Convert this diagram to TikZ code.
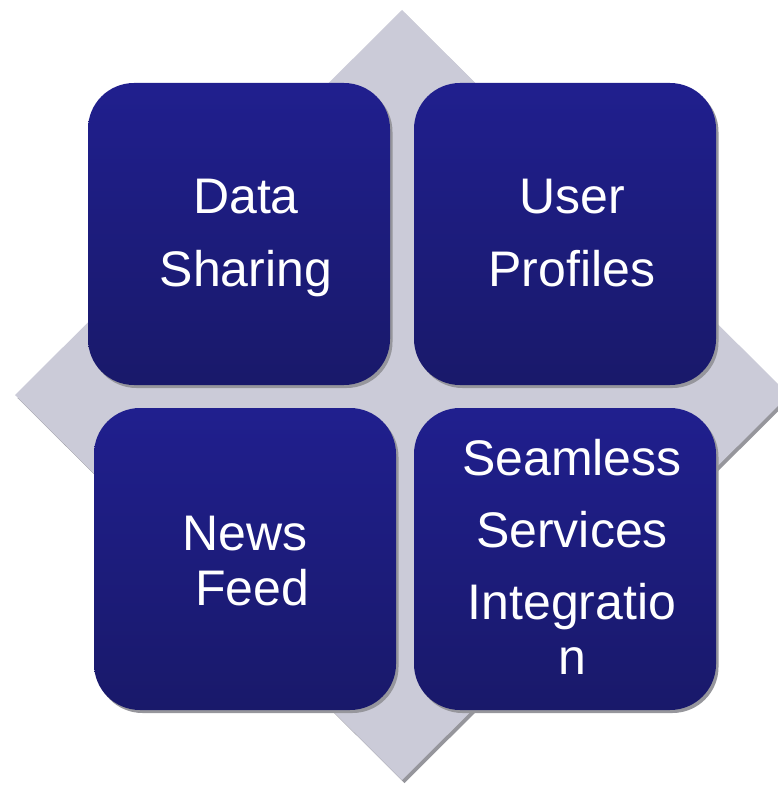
\documentclass[tikz,border=0pt]{standalone}
\usepackage{fontspec}
\setmainfont{Liberation Sans}
\usepackage{tikz}
\usetikzlibrary{shadows,positioning}

\definecolor{diamondgray}{RGB}{203,203,216}
\definecolor{shadowgray}{RGB}{150,150,156}
\definecolor{tiletop}{RGB}{32,31,142}
\definecolor{tilebottom}{RGB}{25,25,106}

\tikzset{
	tile/.style={rounded corners=46pt, top color=tiletop, bottom color=tilebottom,
		minimum width=302pt, minimum height=302pt, inner sep=0pt,
		drop shadow={shadow xshift=2.5pt, shadow yshift=-3pt, fill=shadowgray, opacity=1}},
	tiletext/.style={text=white, align=center, inner sep=0pt,
		font=\fontsize{50}{#1}\selectfont}
}

\begin{document}
\begin{tikzpicture}[x=1pt,y=-1pt]
\useasboundingbox (0,0) rectangle (777,786);
% Diamond behind the tiles
\fill[diamondgray, drop shadow={shadow xshift=2.5pt, shadow yshift=-3pt, fill=shadowgray, opacity=1}]
	(402,10) -- (789,395) -- (402,780) -- (15,395) -- cycle;
% Tiles
\node[tile] (sharing) at (239,234) {};
\node[tile] (profiles) at (565,234) {};
\node[tile] (feed) at (245,559) {};
\node[tile] (services) at (565,559) {};
% Tile texts
\node[tiletext=73] (sharingtext) at ([xshift=7pt,yshift=-4pt]sharing.center) {Data\\Sharing};
\node[tiletext=73] (profilestext) at ([xshift=7pt,yshift=1pt]profiles.center) {User\\Profiles};
\node[tiletext=55] (feedtext) at ([xshift=7pt,yshift=-2pt]feed.center) {News\rule{0.278em}{0pt}\\Feed};
\node[tiletext=72] (servicestext) at ([xshift=7pt,yshift=2pt]services.center)
	{Seamless\\Services\\Integratio\\[-17pt]n};
\end{tikzpicture}
\end{document}
